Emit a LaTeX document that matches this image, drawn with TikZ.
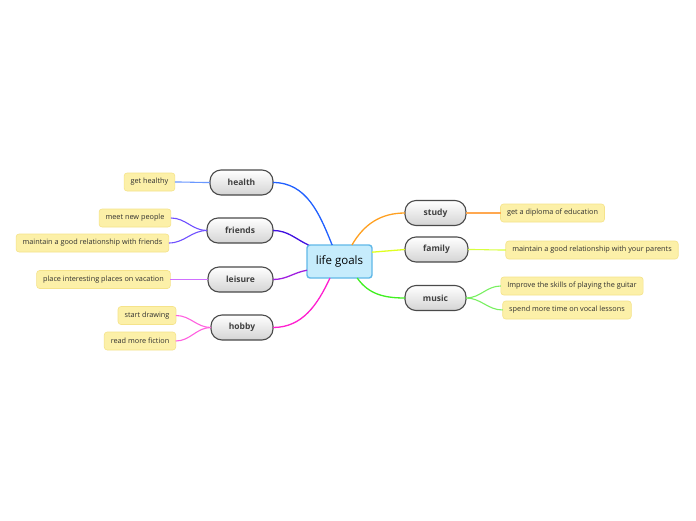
\documentclass[tikz,border=0pt]{standalone}
\usepackage{fontspec}
\setmainfont{Open Sans}
\begin{document}
\begin{tikzpicture}[x=1pt,y=-1pt,
  every node/.style={inner sep=0pt, outer sep=0pt},
  hub/.style={draw=hubline, fill=hubfill, line width=1.4pt, rounded corners=3pt,
     minimum width=65pt, minimum height=33pt, font=\fontsize{11.5}{14}\selectfont, text=black},
  pill/.style={draw=pillline, line width=1.1pt, rounded corners=11pt, top color=white,
     bottom color=pillbot, minimum height=25pt, font=\bfseries\fontsize{8.5}{11}\selectfont, text=pilltext},
  leaf/.style={draw=leafline, fill=leaffill, line width=0.6pt, rounded corners=3pt,
     minimum height=18pt, inner xsep=6.5pt, font=\fontsize{7.3}{8}\selectfont, text=leaftext},
  main/.style={line width=1.3pt},
  sub/.style={line width=1.1pt}]
\definecolor{hubline}{HTML}{60B8E8}
\definecolor{hubfill}{HTML}{C6ECFC}
\definecolor{pillline}{HTML}{4A4A4A}
\definecolor{pillbot}{HTML}{D4D4D4}
\definecolor{pilltext}{HTML}{404040}
\definecolor{leafline}{HTML}{F5E38A}
\definecolor{leaffill}{HTML}{FCF0A8}
\definecolor{leaftext}{HTML}{303030}
\definecolor{mainA}{HTML}{2060FF}\definecolor{subA}{HTML}{6A98FF}
\definecolor{mainB}{HTML}{4010E0}\definecolor{subB}{HTML}{7050FF}
\definecolor{mainC}{HTML}{A020E0}\definecolor{subC}{HTML}{D070FF}
\definecolor{mainD}{HTML}{FF20D0}\definecolor{subD}{HTML}{FF60E0}
\definecolor{mainE}{HTML}{FFA020}\definecolor{subE}{HTML}{FFA850}
\definecolor{mainF}{HTML}{E0FF20}\definecolor{subF}{HTML}{D8FF40}
\definecolor{mainG}{HTML}{40F020}\definecolor{subG}{HTML}{78F060}
\useasboundingbox[fill=white] (0,0) rectangle (696,520);

\node[hub] (c) at (339.5,261.5) {life goals};

\node[pill, minimum width=63pt] (health) at (241.5,182.5) {health};
\node[pill, minimum width=66pt] (friends) at (240,230.5) {friends};
\node[pill, minimum width=65pt] (leisure) at (240.5,279.5) {leisure};
\node[pill, minimum width=62pt] (hobby) at (242,327.5) {hobby};
\node[pill, minimum width=61pt] (study) at (435.5,213) {study};
\node[pill, minimum width=63pt] (family) at (436.5,249.5) {family};
\node[pill, minimum width=61pt] (music) at (435.5,298) {music};

\node[leaf] (l1) at (149.5,182) {get healthy};
\node[leaf] (l2) at (135,218) {meet new people};
\node[leaf] (l3) at (92.5,243) {maintain a good relationship with friends};
\node[leaf] (l4) at (103.5,279.5) {place interesting places on vacation};
\node[leaf] (l5) at (147,315.5) {start drawing};
\node[leaf] (l6) at (140,341) {read more fiction};
\node[leaf] (r1) at (552.5,213) {get a diploma of education};
\node[leaf] (r2) at (592,250) {maintain a good relationship with your parents};
\node[leaf] (r3) at (572,286) {Improve the skills of playing the guitar};
\node[leaf] (r4) at (567,310) {spend more time on vocal lessons};

\draw[main, mainA] (c.114) to[out=112, in=0] (health.east);
\draw[main, mainB] (c.152) to[out=155, in=0] (friends.east);
\draw[main, mainC] (c.195) to[out=190, in=0] (leisure.east);
\draw[main, mainD] (c.240) to[out=245, in=0] (hobby.east);
\draw[main, mainE] (c.53) to[out=60, in=180] (study.west);
\draw[main, mainF] (c.16) to[out=175, in=180, looseness=0] (family.west);
\draw[main, mainG] (c.317) to[out=-55, in=180] (music.west);

\draw[sub, subA] (health.west) to[out=180, in=0] (l1.east);
\draw[sub, subB] (friends.west) to[out=180, in=0] (l2.east);
\draw[sub, subB] (friends.west) to[out=180, in=0] (l3.east);
\draw[sub, subC] (leisure.west) -- (l4.east);
\draw[sub, subD] (hobby.west) to[out=180, in=0] (l5.east);
\draw[sub, subD] (hobby.west) to[out=180, in=0] (l6.east);
\draw[sub, subE] (study.east) -- (r1.west);
\draw[sub, subF] (family.east) to[out=0, in=180] (r2.west);
\draw[sub, subG] (music.east) to[out=0, in=180] (r3.west);
\draw[sub, subG] (music.east) to[out=0, in=180] (r4.west);
\end{tikzpicture}
\end{document}
